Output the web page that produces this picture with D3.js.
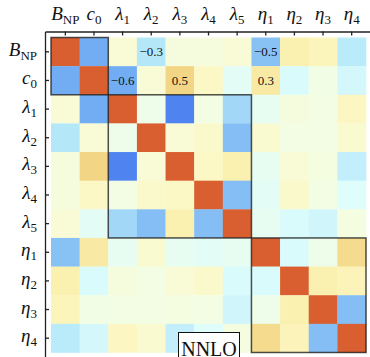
<!DOCTYPE html>
<html>
<head lang="en">
    <meta charset="UTF-8">
    <title></title>
    <style>
        body { margin: 0; background: #fff; }
        svg { display: block; }
        .lab { font-family: "Liberation Serif", serif; fill: #111; }
        .axis path, .axis line { stroke: #222; stroke-width: 1.3; }
    </style>
</head>
<body>
    <svg id="chart" width="370" height="357"></svg>
</body>
<script src="https://cdn.jsdelivr.net/npm/d3@7"></script>
<script>

    // parameter names (base symbol + subscript)
    let names = ["B", "c", "λ", "λ", "λ", "λ", "λ", "η", "η", "η", "η"];
    let subs  = ["NP", "0", "1", "2", "3", "4", "5", "1", "2", "3", "4"];

    // upper triangle of the correlation matrix, row i holds columns j > i
    let upper = [
        [-0.6, 0.05, -0.3, 0.02, 0.02, 0.05, -0.5, 0.2, 0.15, -0.27],
        [-0.6, 0.05, 0.5, 0.1, -0.08, 0.3, -0.12, -0.01, -0.15],
        [-0.03, -0.8, 0.0, -0.4, -0.06, 0.02, 0.0, 0.12],
        [0.05, 0.08, -0.52, 0.07, 0.0, 0.0, 0.07],
        [0.1, 0.2, -0.06, 0.05, 0.01, -0.22],
        [-0.52, -0.08, 0.08, 0.0, -0.1],
        [-0.06, -0.12, -0.16, 0.01],
        [-0.12, -0.03, 0.45],
        [0.2, 0.16],
        [-0.52]
    ];

    // parameter groups (first and last index)
    let blocks = [[0, 1], [2, 6], [7, 10]];
    let tag = "NNLO";

    let n = names.length;
    let cells = [];
    for (let i = 0; i < n; i++) {
        for (let j = 0; j < n; j++) {
            let v;
            if (i === j) v = 1;
            else if (j > i) v = upper[i][j - i - 1];
            else v = upper[j][i - j - 1];
            cells.push({i: i, j: j, v: v});
        }
    }
    let blockOf = i => blocks.findIndex(b => i >= b[0] && i <= b[1]);

    let color = d3.scaleLinear()
        .domain([-1, -0.8, -0.6, -0.5, -0.4, -0.3, -0.2, -0.1, 0, 0.1, 0.2, 0.3, 0.5, 0.75, 1])
        .range(["#3565ea", "#4f84f0", "#72acf2", "#88c2f5", "#a2d7f8", "#b4e8f9", "#c6f1fb",
                "#dffdfb", "#f3fde3", "#fcf8c6", "#faf0b0", "#f8eaa5", "#f3d685", "#e89a58", "#d95f30"])
        .interpolate(d3.interpolateRgb);

    let svg = d3.select("#chart");
    let idx = d3.range(n);

    let x = d3.scaleBand().domain(idx).range([45, 372]).paddingOuter(0.21).paddingInner(0);
    let y = d3.scaleBand().domain(idx).range([31.5, 358.5]).paddingOuter(0.21).paddingInner(0);
    let bw = x.bandwidth(), bh = y.bandwidth();

    svg.append("g")
      .selectAll("rect")
      .data(cells)
      .join("rect")
      .attr("x", d => x(d.j))
      .attr("y", d => y(d.i))
      .attr("width", bw + 0.3)
      .attr("height", bh + 0.3)
      .attr("fill", d => color(d.v));

    // annotate strong correlations between different groups
    svg.append("g")
      .selectAll("text")
      .data(cells.filter(d => d.j > d.i && blockOf(d.i) !== blockOf(d.j) && Math.abs(d.v) >= 0.295))
      .join("text")
      .attr("class", "lab")
      .attr("x", d => x(d.j) + bw / 2)
      .attr("y", d => y(d.i) + bh / 2 + 4.5)
      .attr("text-anchor", "middle")
      .attr("font-size", 13)
      .text(d => d3.format(".1f")(d.v).replace("-", "−"));

    // group boxes
    svg.append("g")
      .selectAll("rect")
      .data(blocks)
      .join("rect")
      .attr("x", d => x(d[0]))
      .attr("y", d => y(d[0]))
      .attr("width", d => x(d[1]) + bw - x(d[0]))
      .attr("height", d => y(d[1]) + bh - y(d[0]))
      .attr("fill", "none")
      .attr("stroke", "#222")
      .attr("stroke-opacity", 0.8)
      .attr("stroke-width", 1.5);

    // axes with inward ticks
    svg.append("g")
      .attr("class", "axis")
      .attr("transform", "translate(0,31.5)")
      .call(d3.axisTop(x).tickSizeInner(-4).tickSizeOuter(0).tickFormat(""));

    svg.append("g")
      .attr("class", "axis")
      .attr("transform", "translate(45,0)")
      .call(d3.axisLeft(y).tickSizeInner(-4).tickSizeOuter(0).tickFormat(""));

    let addLabel = (sel, i) => {
        sel.append("tspan").attr("font-style", "italic").attr("font-size", 19).text(names[i]);
        sel.append("tspan").attr("font-size", 13).attr("dy", 4).text(subs[i]);
    };

    idx.forEach(i => {
        let t = svg.append("text")
          .attr("class", "lab")
          .attr("x", x(i) + bw / 2)
          .attr("y", 20)
          .attr("text-anchor", "middle");
        addLabel(t, i);

        let l = svg.append("text")
          .attr("class", "lab")
          .attr("x", 37)
          .attr("y", y(i) + bh / 2 + 4)
          .attr("text-anchor", "end");
        addLabel(l, i);
    });

    // order tag
    let tg = svg.append("g").attr("transform", "translate(178.5,332.5)");
    tg.append("rect")
      .attr("width", 61)
      .attr("height", 40)
      .attr("fill", "#fff")
      .attr("stroke", "#111")
      .attr("stroke-width", 1);
    tg.append("text")
      .attr("class", "lab")
      .attr("x", 30.5)
      .attr("y", 23.5)
      .attr("text-anchor", "middle")
      .attr("font-size", 20)
      .text(tag);

</script>
</html>
